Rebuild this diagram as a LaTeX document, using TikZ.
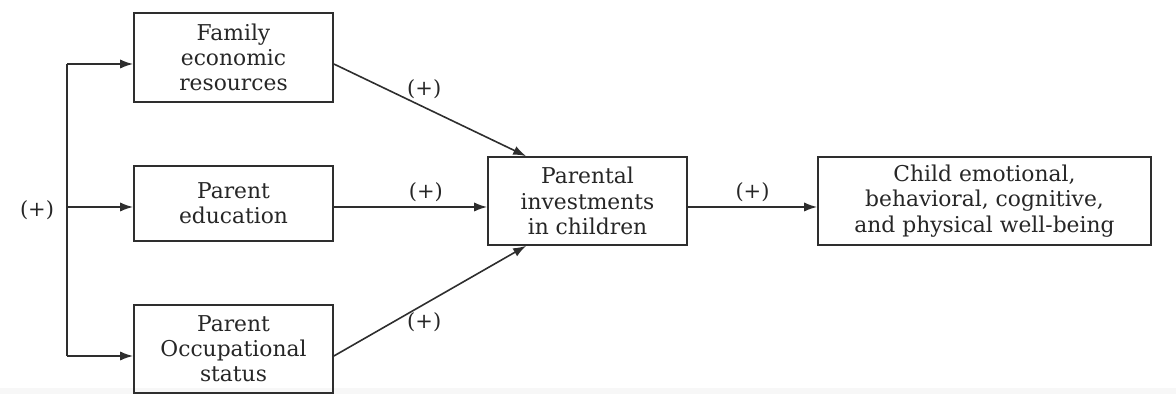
\documentclass[tikz,border=0pt]{standalone}
\usepackage{fontspec}
\setmainfont{DejaVu Serif}
\usetikzlibrary{arrows.meta,calc}
\definecolor{ink}{HTML}{2E2E2E}
\definecolor{txt}{HTML}{262626}
\tikzset{
  box/.style={draw=ink, line width=0.85pt, align=center, text=txt, inner sep=0pt,
    font=\fontsize{10.9pt}{12.6pt}\selectfont},
  conn/.style={draw=ink, line width=0.8pt, -{Latex[length=6.5pt,width=4.6pt]}},
  plain/.style={draw=ink, line width=0.8pt},
  lab/.style={text=txt, font=\fontsize{10.5pt}{12pt}\selectfont, inner sep=1pt}
}
\begin{document}
\begin{tikzpicture}[x=0.5pt,y=-0.5pt]
\useasboundingbox (0,0) rectangle (1176,394);
\fill[black!3] (0,388) rectangle (1176,394);
% boxes
\node[box, minimum width=99.5pt, minimum height=44.5pt] (b1) at (233.5,57.5) {Family\\economic\\resources};
\node[box, minimum width=99.5pt, minimum height=37.5pt] (b2) at (233.5,203.5) {Parent\\education};
\node[box, minimum width=99.5pt, minimum height=44pt] (b3) at (233.5,349) {Parent\\Occupational\\status};
\node[box, minimum width=99.5pt, minimum height=44pt] (b4) at (587.5,201) {Parental\\investments\\in children};
\node[box, minimum width=166.5pt, minimum height=44pt] (b5) at (984.5,201) {Child emotional,\\behavioral, cognitive,\\and physical well-being};
% left bracket
\coordinate (t) at (67,64);
\coordinate (m) at (67,207);
\coordinate (bt) at (67,356);
\node[lab] (lp) at (37,210) {(+)};
\draw[plain] (t) -- (bt);
\draw[conn] (t) -- (t -| b1.west);
\draw[conn] (m) -- (m -| b2.west);
\draw[conn] (bt) -- (bt -| b3.west);
% to parental investments
\coordinate (in1) at ($(b4.north west)+(39,0)$);
\coordinate (in3) at ($(b4.south west)+(39,0)$);
\draw[conn] (t -| b1.east) -- node[lab, pos=0.47, above=3pt] {(+)} (in1);
\draw[conn] (m -| b2.east) -- node[lab, pos=0.6, above=1pt] {(+)} (m -| b4.west);
\draw[conn] (bt -| b3.east) -- node[lab, pos=0.47, below=3pt] {(+)} (in3);
% to child outcomes
\draw[conn] (m -| b4.east) -- node[lab, pos=0.5, above=1pt] {(+)} (m -| b5.west);
\end{tikzpicture}
\end{document}
